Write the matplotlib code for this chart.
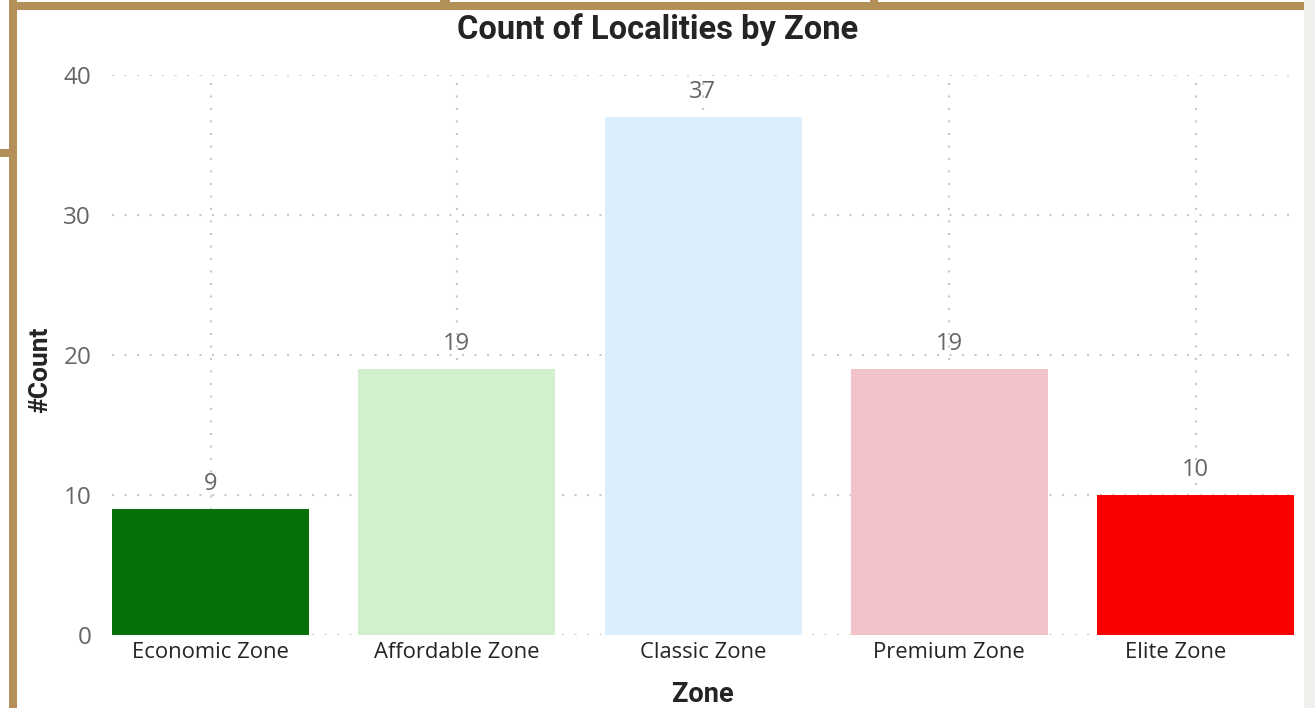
import matplotlib
matplotlib.use("Agg")
import matplotlib.pyplot as plt
from matplotlib.patches import Rectangle
from matplotlib.transforms import ScaledTranslation

zones = ["Economic Zone", "Affordable Zone", "Classic Zone", "Premium Zone", "Elite Zone"]
counts = [9, 19, 37, 19, 10]
bar_colors = ["#077009", "#D2F0CE", "#DCEDFC", "#F2C4CA", "#FA0000"]
yticks = [0, 10, 20, 30, 40]

W, H = 1315, 708
fig = plt.figure(figsize=(W / 100, H / 100), dpi=100)
fig.patch.set_facecolor("white")

def px(x0, y0, x1, y1):
    # pixel box (top-left origin) -> figure fraction rect
    return (x0 / W, 1 - y1 / H, (x1 - x0) / W, (y1 - y0) / H)

ax = fig.add_axes(px(112, 75, 1294, 635))
x = list(range(len(zones)))
ax.bar(x, counts, width=0.8, color=bar_colors, zorder=2)
ax.set_xlim(-0.4, len(zones) - 0.6)
ax.set_ylim(0, 40)
ax.set_yticks(yticks)
ax.set_xticks(x)
ax.set_xticklabels(zones, fontsize=15.8, color="#252423", family="Open Sans")
ax.tick_params(axis="x", length=0, pad=5)
ax.tick_params(axis="y", length=0, pad=15, labelsize=17.5, labelcolor="#666666")
for lab in ax.get_yticklabels():
    lab.set_family("Open Sans")
# last category label is nudged left (kept inside the plot like the original)
last = ax.get_xticklabels()[-1]
last.set_transform(last.get_transform() + ScaledTranslation(-0.2, 0, fig.dpi_scale_trans))
ax.grid(True, color="#C8C8C8", linestyle=(0, (1, 5)), linewidth=1.5, zorder=0)
for s in ax.spines.values():
    s.set_visible(False)

for xi, c in zip(x, counts):
    ax.annotate(str(c), (xi, c), xytext=(0, 9), textcoords="offset points",
                ha="center", va="bottom", fontsize=17, color="#666666", family="Open Sans")

fig.text(703 / W, 1 - 695 / H, "Zone", ha="center", va="center",
         fontsize=19.5, fontweight="bold", color="#252423", family="Roboto")
fig.text(40 / W, 1 - 370 / H, "#Count", ha="center", va="center", rotation=90,
         fontsize=19, fontweight="bold", color="#252423", family="Roboto")

fig.text(658 / W, 1 - 30 / H, "Count of Localities by Zone", ha="center", va="center",
         fontsize=23.5, fontweight="bold", color="#252423", family="Roboto")

gold = "#B39059"
for box in [(10, 2, 1304, 10), (9, 0, 17, 708), (0, 149, 10, 157), (440, 0, 450, 2), (870, 0, 878, 2)]:
    r = px(*box)
    fig.add_artist(Rectangle(r[:2], r[2], r[3], transform=fig.transFigure,
                             facecolor=gold, edgecolor="none"))
r = px(1304, 0, 1315, 708)
fig.add_artist(Rectangle(r[:2], r[2], r[3], transform=fig.transFigure,
                         facecolor="#F0EFEC", edgecolor="none"))

fig.savefig("out.png", dpi=100)
